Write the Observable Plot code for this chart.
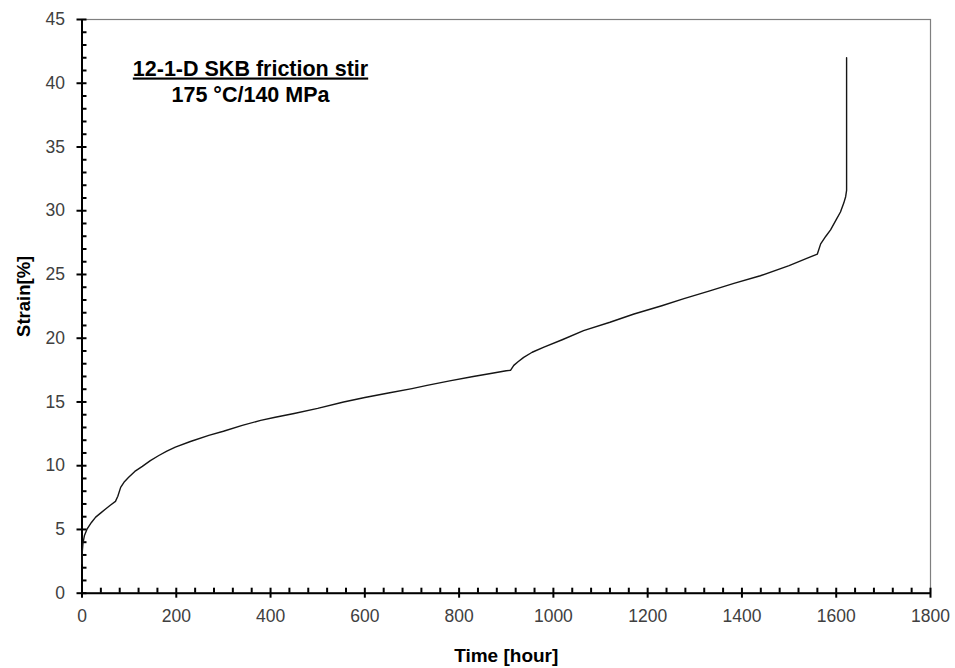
<!DOCTYPE html>
<html>
<head>
<meta charset="utf-8">
<script src="https://cdn.jsdelivr.net/npm/d3@7"></script>
<script src="https://cdn.jsdelivr.net/npm/@observablehq/plot@0.6"></script>
<style>
  html, body { margin: 0; padding: 0; background: #fff; }
  #chart { width: 955px; height: 668px; }
</style>
</head>
<body>
<div id="chart"></div>
<script>
// Creep curve: time [hour] vs strain [%]
const time = [0, 0.5, 2, 5, 11, 20, 29, 40, 50, 60, 71, 76, 82, 90, 99, 112, 128, 145, 163, 180, 198, 230, 269, 300, 340, 379, 410, 450, 500, 555, 600, 650, 700, 732, 780, 830, 870, 900, 909, 916, 925, 937, 955, 980, 1020, 1064, 1120, 1171, 1230, 1277, 1330, 1383, 1439, 1500, 1540, 1560, 1567, 1578, 1588, 1600, 1609, 1616, 1620, 1622, 1622];
const strain = [2.3, 3.2, 3.9, 4.5, 5.05, 5.55, 5.97, 6.3, 6.6, 6.9, 7.2, 7.6, 8.3, 8.75, 9.1, 9.55, 9.95, 10.4, 10.8, 11.15, 11.46, 11.9, 12.38, 12.7, 13.16, 13.56, 13.8, 14.1, 14.5, 15.0, 15.35, 15.7, 16.05, 16.3, 16.65, 17.0, 17.25, 17.45, 17.48, 17.87, 18.15, 18.5, 18.9, 19.3, 19.9, 20.6, 21.25, 21.9, 22.55, 23.1, 23.7, 24.3, 24.9, 25.7, 26.3, 26.6, 27.4, 28.0, 28.5, 29.3, 29.9, 30.6, 31.1, 31.6, 42.0];

const xMajor = [0, 200, 400, 600, 800, 1000, 1200, 1400, 1600, 1800];
const xMinor = d3.range(0, 1801, 40).filter(v => v % 200 !== 0);
const yMajor = [0, 5, 10, 15, 20, 25, 30, 35, 40, 45];
const yMinor = d3.range(0, 46, 1).filter(v => v % 5 !== 0);

const titleLines = ["12-1-D SKB friction stir", "175 °C/140 MPa"];
const xLabel = "Time [hour]";
const yLabel = "Strain[%]";

const rows = time.map((t, i) => ({t, s: strain[i]}));

const font = "'Liberation Sans', Arial, sans-serif";

const chart = Plot.plot({
  width: 955,
  height: 668,
  marginLeft: 81.5,
  marginRight: 25,
  marginTop: 19,
  marginBottom: 75.3,
  style: {fontFamily: font, background: "#fff", overflow: "visible"},
  x: {domain: [0, 1800], axis: null},
  y: {domain: [0, 45], axis: null},
  marks: [
    Plot.frame({stroke: "#7f7f7f", strokeWidth: 1.2}),
    // minor ticks (inside the plot area)
    Plot.ruleX(xMinor, {x: d => d, y1: 0, y2: 0, insetTop: -5, insetBottom: 0, stroke: "#000", strokeWidth: 2}),
    Plot.ruleY(yMinor, {y: d => d, x1: 0, x2: 0, insetLeft: 0, insetRight: -5, stroke: "#000", strokeWidth: 2}),
    // major ticks (crossing the axis)
    Plot.ruleX(xMajor, {x: d => d, y1: 0, y2: 0, insetTop: -5, insetBottom: -5, stroke: "#000", strokeWidth: 2}),
    Plot.ruleY(yMajor, {y: d => d, x1: 0, x2: 0, insetLeft: -5, insetRight: -5, stroke: "#000", strokeWidth: 2}),
    // axis lines
    Plot.ruleY([0], {stroke: "#000", strokeWidth: 2}),
    Plot.ruleX([0], {stroke: "#000", strokeWidth: 2}),
    // tick labels
    Plot.axisX(xMajor, {tickSize: 0, tickPadding: 16, fontSize: 17.5, fill: "#404040", anchor: "bottom", label: null, tickFormat: d => String(d)}),
    Plot.axisY(yMajor, {tickSize: 0, tickPadding: 17, fontSize: 17.5, fill: "#404040", anchor: "left", label: null, tickFormat: d => String(d)}),
    // data
    Plot.line(rows, {x: "t", y: "s", stroke: "#151515", strokeWidth: 1.4}),
    // axis titles
    Plot.text([xLabel], {frameAnchor: "bottom", textAnchor: "middle", lineAnchor: "bottom", dy: 69, fontSize: 19, fontWeight: "bold", fill: "#000", text: d => d}),
    Plot.text([yLabel], {frameAnchor: "left", textAnchor: "middle", lineAnchor: "middle", dx: -58, dy: -10, rotate: -90, fontSize: 18.5, fontWeight: "bold", fill: "#000", text: d => d}),
    // annotation
    Plot.text([titleLines[0]], {frameAnchor: "top-left", textAnchor: "middle", lineAnchor: "bottom", dx: 168.5, dy: 56, fontSize: 21.5, fontWeight: "bold", fill: "#000", text: d => d}),
    Plot.text([titleLines[1]], {frameAnchor: "top-left", textAnchor: "middle", lineAnchor: "bottom", dx: 168.5, dy: 82, fontSize: 21.5, fontWeight: "bold", fill: "#000", text: d => d})
  ]
});

// underline on the first annotation line
chart.querySelectorAll("text").forEach(t => {
  if (t.textContent === titleLines[0]) t.style.textDecoration = "underline";
});

document.getElementById("chart").appendChild(chart);
</script>
</body>
</html>
